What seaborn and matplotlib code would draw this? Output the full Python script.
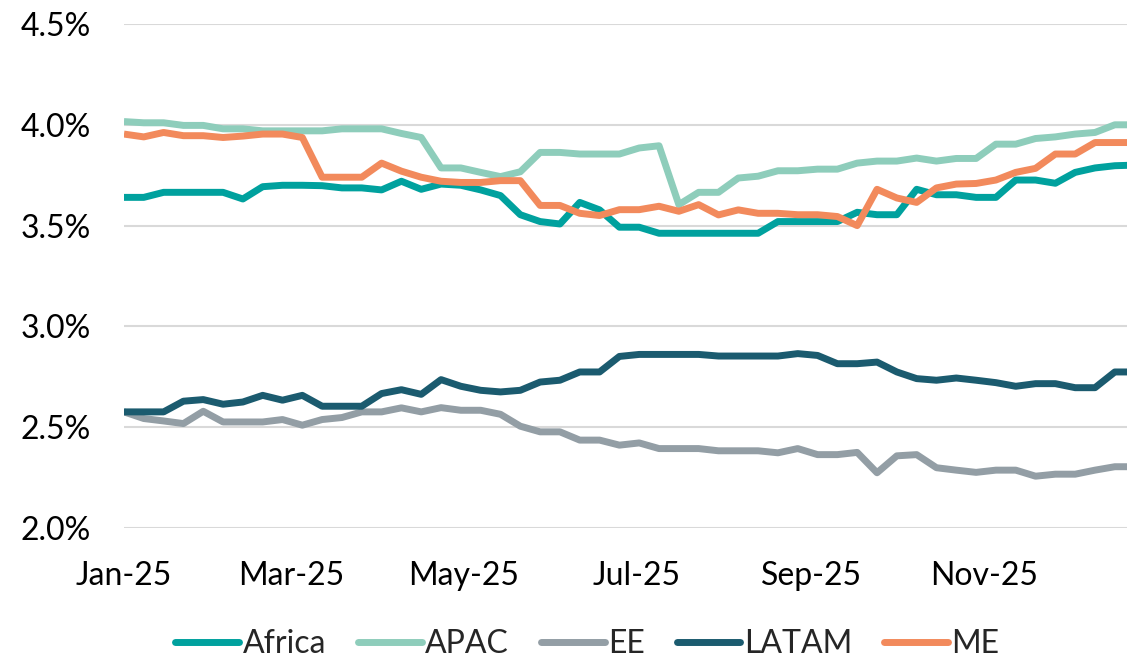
import pandas as pd
import matplotlib
matplotlib.use("Agg")
import matplotlib.pyplot as plt
import matplotlib.dates as mdates
from matplotlib.ticker import FuncFormatter, MultipleLocator
import seaborn as sns

sns.set_theme(style="white")
plt.rcParams['font.family'] = ['Lato', 'DejaVu Sans']

# weekly series, Jan-25 .. Dec-25
weeks = pd.date_range("2025-01-01", periods=52, freq="7D")
regions = ["Africa", "APAC", "EE", "LATAM", "ME"]
colors = ["#00A19E", "#8ECDBB", "#939EA5", "#1B5B6F", "#F28A5C"]

africa = [3.64, 3.64, 3.665, 3.665, 3.665, 3.665, 3.632, 3.693, 3.70, 3.70,
          3.698, 3.687, 3.687, 3.677, 3.72, 3.68, 3.706, 3.70, 3.677, 3.649,
          3.554, 3.52, 3.508, 3.615, 3.578, 3.492, 3.492, 3.462, 3.462, 3.462,
          3.462, 3.462, 3.462, 3.52, 3.52, 3.52, 3.52, 3.566, 3.554, 3.554,
          3.68, 3.653, 3.653, 3.64, 3.64, 3.726, 3.726, 3.71, 3.764, 3.786,
          3.797, 3.80]
apac = [4.016, 4.01, 4.01, 3.997, 3.997, 3.98, 3.98, 3.97, 3.97, 3.97,
        3.97, 3.98, 3.98, 3.98, 3.957, 3.937, 3.786, 3.786, 3.764, 3.743,
        3.767, 3.863, 3.863, 3.855, 3.855, 3.855, 3.885, 3.896, 3.604, 3.665,
        3.665, 3.736, 3.745, 3.772, 3.772, 3.78, 3.78, 3.81, 3.82, 3.82,
        3.835, 3.82, 3.833, 3.833, 3.904, 3.904, 3.932, 3.94, 3.954, 3.962,
        4.0, 4.0]
ee = [2.576, 2.543, 2.531, 2.518, 2.579, 2.526, 2.526, 2.526, 2.538, 2.51,
      2.538, 2.548, 2.576, 2.576, 2.596, 2.576, 2.597, 2.584, 2.584, 2.564,
      2.505, 2.477, 2.477, 2.436, 2.436, 2.411, 2.422, 2.394, 2.394, 2.394,
      2.383, 2.383, 2.383, 2.373, 2.394, 2.364, 2.364, 2.375, 2.274, 2.358,
      2.364, 2.299, 2.287, 2.276, 2.287, 2.287, 2.257, 2.267, 2.267, 2.287,
      2.304, 2.304]
latam = [2.576, 2.576, 2.576, 2.629, 2.637, 2.614, 2.625, 2.658, 2.634, 2.658,
         2.604, 2.604, 2.604, 2.667, 2.686, 2.663, 2.736, 2.703, 2.683, 2.675,
         2.683, 2.724, 2.733, 2.774, 2.774, 2.851, 2.861, 2.861, 2.861, 2.861,
         2.853, 2.853, 2.853, 2.853, 2.865, 2.856, 2.815, 2.815, 2.823, 2.774,
         2.741, 2.733, 2.744, 2.733, 2.721, 2.703, 2.716, 2.716, 2.696, 2.696,
         2.774, 2.774]
me = [3.954, 3.94, 3.962, 3.946, 3.946, 3.937, 3.944, 3.954, 3.954, 3.937,
      3.74, 3.74, 3.74, 3.81, 3.77, 3.74, 3.72, 3.714, 3.714, 3.723,
      3.723, 3.60, 3.60, 3.561, 3.55, 3.579, 3.579, 3.596, 3.571, 3.604,
      3.553, 3.578, 3.561, 3.561, 3.554, 3.554, 3.545, 3.50, 3.68, 3.637,
      3.615, 3.687, 3.706, 3.709, 3.726, 3.764, 3.784, 3.855, 3.855, 3.912,
      3.912, 3.912]

series = dict(zip(regions, [africa, apac, ee, latam, me]))
df = pd.concat(
    [pd.DataFrame({"date": weeks, "region": r, "value": v}) for r, v in series.items()],
    ignore_index=True,
)

fig = plt.figure(figsize=(11.27, 6.61), dpi=100)
ax = fig.add_axes([0.110, 0.2012, 0.890, 0.7625])

sns.lineplot(data=df, x="date", y="value", hue="region", hue_order=regions,
             palette=dict(zip(regions, colors)), linewidth=5, ax=ax,
             legend=False)
for line in ax.get_lines():
    line.set_solid_joinstyle("round")
    line.set_solid_capstyle("butt")

ax.set_ylim(2.0, 4.5)
ax.yaxis.set_major_locator(MultipleLocator(0.5))
ax.yaxis.set_major_formatter(FuncFormatter(lambda v, _: f"{v:.1f}%"))
ax.set_xlim(weeks[0], weeks[0] + pd.Timedelta(days=354.3))
ax.xaxis.set_major_locator(mdates.MonthLocator(bymonth=[1, 3, 5, 7, 9, 11]))
ax.xaxis.set_major_formatter(mdates.DateFormatter("%b-%y"))

ax.grid(axis="y", color="#D9D9D9", linewidth=1.5)
ax.set_axisbelow(True)
for s in ax.spines.values():
    s.set_visible(False)
ax.tick_params(axis="both", length=0, labelsize=23, labelcolor="black")
ax.tick_params(axis="y", pad=24)
ax.tick_params(axis="x", pad=24)
ax.set_xlabel("")
ax.set_ylabel("")

handles = [plt.Line2D([], [], color=c, linewidth=5, solid_capstyle="round") for c in colors]
fig.legend(handles, regions, loc="center", bbox_to_anchor=(0.521, 0.025),
           ncol=5, frameon=False, fontsize=23, handlelength=2.0,
           handletextpad=0.1, columnspacing=1.0, borderaxespad=0)

fig.savefig("out.png", dpi=100)
